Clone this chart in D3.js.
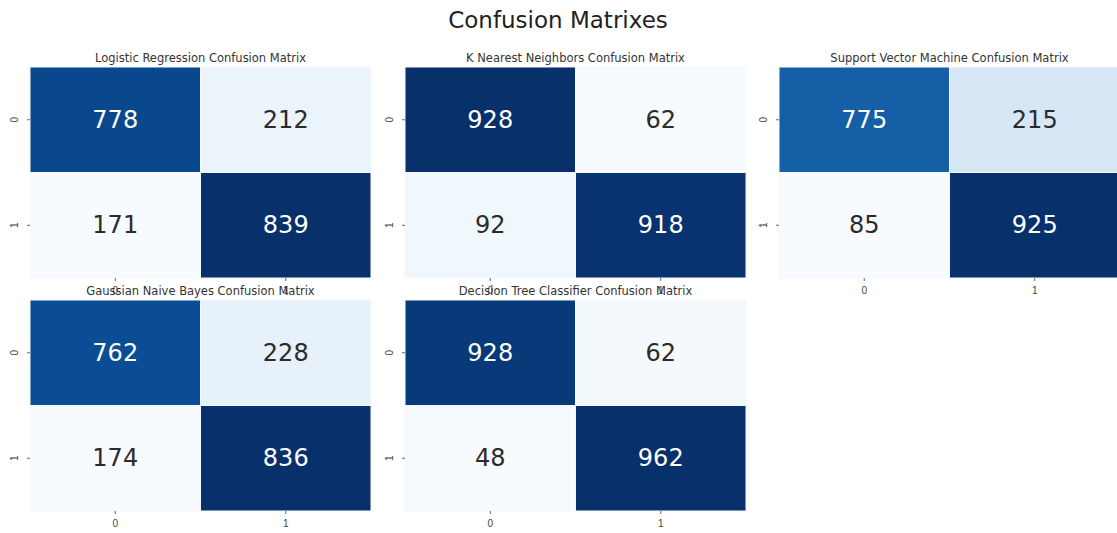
<!DOCTYPE html>
<html>
<head>
<meta charset="utf-8">
<script src="https://cdn.jsdelivr.net/npm/d3@7"></script>
<style>
  body { margin: 0; background: #fff; }
  svg { display: block; font-family: "DejaVu Sans", sans-serif; }
</style>
</head>
<body>
<div id="chart"></div>
<script>
// data
var models = ["Logistic Regression", "K Nearest Neighbors", "Support Vector Machine",
              "Gaussian Naive Bayes", "Decision Tree Classifier"];
var classLabels = ["0", "1"];
var logisticCm = [[778, 212], [171, 839]];
var knnCm      = [[928, 62], [92, 918]];
var svmCm      = [[775, 215], [85, 925]];
var gnbCm      = [[762, 228], [174, 836]];
var treeCm     = [[928, 62], [48, 962]];
var matrices = [logisticCm, knnCm, svmCm, gnbCm, treeCm];

// chart dimensions
var width = 1117;
var height = 533;

// grid of subplots
var colLeft = [30, 405, 779];
var rowTop = [67, 300];
var panelW = 341;
var panelH = 211;

var svg = d3.select('#chart')
  .append('svg')
  .attr('width', width)
  .attr('height', height);

svg.append('text')
  .attr('x', 558)
  .attr('y', 20)
  .attr('text-anchor', 'middle')
  .attr('dominant-baseline', 'central')
  .style('font-size', '23px')
  .style('fill', '#222')
  .text('Confusion Matrixes');

// seaborn picks the annotation colour from the cell luminance
function textColor(c) {
  var rgb = d3.rgb(c);
  var lin = [rgb.r, rgb.g, rgb.b].map(function(v) {
    v = v / 255;
    return v <= 0.03928 ? v / 12.92 : Math.pow((v + 0.055) / 1.055, 2.4);
  });
  var lum = 0.2126 * lin[0] + 0.7152 * lin[1] + 0.0722 * lin[2];
  return lum > 0.408 ? '#2b2b2b' : '#ffffff';
}

models.forEach(function(name, k) {
  var cm = matrices[k];
  var left = colLeft[k % 3];
  var top = rowTop[Math.floor(k / 3)];

  var g = svg.append('g')
    .attr('transform', 'translate(' + left + ',' + top + ')');

  var x = d3.scaleBand().domain(classLabels).range([0, panelW]);
  var y = d3.scaleBand().domain(classLabels).range([0, panelH]);

  var flat = d3.merge(cm);
  var color = d3.scaleSequential(d3.interpolateBlues)
    .domain([d3.min(flat), d3.max(flat)]);

  var cells = [];
  cm.forEach(function(row, i) {
    row.forEach(function(v, j) {
      cells.push({ r: classLabels[i], c: classLabels[j], value: v });
    });
  });

  g.selectAll('rect')
    .data(cells)
    .enter()
    .append('rect')
    .attr('x', function(d) { return x(d.c); })
    .attr('y', function(d) { return y(d.r); })
    .attr('width', x.bandwidth())
    .attr('height', y.bandwidth())
    .attr('fill', function(d) { return color(d.value); })
    .attr('stroke', '#f4f8fc')
    .attr('stroke-width', 1);

  g.selectAll('.annot')
    .data(cells)
    .enter()
    .append('text')
    .attr('class', 'annot')
    .attr('x', function(d) { return x(d.c) + x.bandwidth() / 2; })
    .attr('y', function(d) { return y(d.r) + y.bandwidth() / 2; })
    .attr('text-anchor', 'middle')
    .attr('dominant-baseline', 'central')
    .style('font-size', '24px')
    .style('fill', function(d) { return textColor(color(d.value)); })
    .text(function(d) { return d.value; });

  // subplot title
  g.append('text')
    .attr('x', panelW / 2)
    .attr('y', -5)
    .attr('text-anchor', 'middle')
    .style('font-size', '11.5px')
    .style('fill', '#333')
    .text(name + ' Confusion Matrix');

  // y axis
  var yAxis = g.append('g')
    .attr('font-family', null)
    .call(d3.axisLeft(y).tickSize(3).tickPadding(10));
  yAxis.select('.domain').remove();
  yAxis.selectAll('line').attr('stroke', '#666');
  yAxis.selectAll('text')
    .attr('x', -16)
    .attr('dy', null)
    .attr('text-anchor', 'middle')
    .attr('dominant-baseline', 'central')
    .attr('transform', 'rotate(-90,-16,0)')
    .style('font-size', '10px')
    .style('fill', '#444');

  // x axis
  var xAxis = g.append('g')
    .attr('font-family', null)
    .attr('transform', 'translate(0,' + panelH + ')')
    .call(d3.axisBottom(x).tickSize(3).tickPadding(6));
  xAxis.select('.domain').remove();
  xAxis.selectAll('line').attr('stroke', '#666');
  xAxis.selectAll('text')
    .style('font-size', '10px')
    .style('fill', '#444');
});
</script>
</body>
</html>
